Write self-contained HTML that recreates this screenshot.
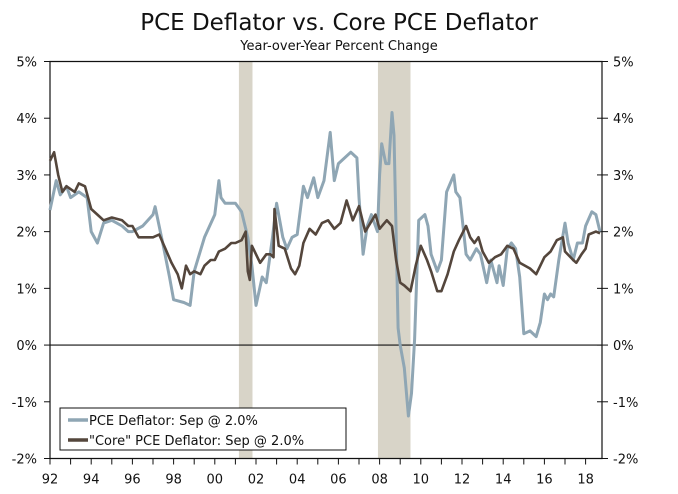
<!DOCTYPE html>
<html><head><meta charset="utf-8"><style>
html,body{margin:0;padding:0;background:#fff;}
svg{display:block;font-family:"DejaVu Sans","Liberation Sans",sans-serif;}
</style></head><body>
<svg id="chart" width="678" height="494" viewBox="0 0 678 494" xmlns="http://www.w3.org/2000/svg">
<text x="339" y="30" text-anchor="middle" font-size="23" fill="#111">PCE Deflator vs. Core PCE Deflator</text>
<text x="339" y="50" text-anchor="middle" font-size="13" fill="#111">Year-over-Year Percent Change</text>
<g id="rec"></g><g id="axes"></g><g id="lines"></g>
<g>
<rect x="60" y="408" width="286" height="42" fill="#fff" stroke="#111" stroke-width="1"/>
<line x1="68" y1="420" x2="88" y2="420" stroke="#8fa6b4" stroke-width="3.5"/>
<text x="89" y="425" font-size="13" fill="#111">PCE Deflator: Sep @ 2.0%</text>
<line x1="68" y1="440" x2="88" y2="440" stroke="#54463c" stroke-width="3.5"/>
<text x="89" y="445" font-size="13" fill="#111">"Core" PCE Deflator: Sep @ 2.0%</text>
</g>
</svg>
<script>
const pceDates=[1992.0,1992.3,1992.5,1992.8,1993.0,1993.4,1993.8,1994.0,1994.3,1994.6,1995.0,1995.5,1995.8,1996.0,1996.5,1997.0,1997.1,1997.5,1997.8,1998.0,1998.5,1998.8,1999.0,1999.5,2000.0,2000.2,2000.3,2000.5,2001.0,2001.3,2001.6,2001.8,2002.0,2002.3,2002.5,2002.8,2003.0,2003.3,2003.5,2003.75,2004.0,2004.3,2004.5,2004.8,2005.0,2005.3,2005.6,2005.8,2006.0,2006.6,2006.9,2007.0,2007.2,2007.4,2007.6,2007.9,2008.0,2008.1,2008.3,2008.45,2008.6,2008.7,2008.8,2008.9,2009.0,2009.2,2009.4,2009.55,2009.7,2009.9,2010.2,2010.35,2010.5,2010.8,2011.0,2011.25,2011.6,2011.7,2011.9,2012.2,2012.4,2012.7,2012.9,2013.2,2013.4,2013.7,2013.8,2014.0,2014.2,2014.4,2014.6,2014.8,2015.0,2015.3,2015.6,2015.8,2016.0,2016.15,2016.3,2016.45,2016.7,2017.0,2017.15,2017.4,2017.6,2017.85,2018.0,2018.3,2018.5,2018.7];
const pceValues=[2.38,2.9,2.65,2.8,2.6,2.7,2.6,2.0,1.8,2.15,2.2,2.1,2.0,2.0,2.1,2.3,2.44,1.75,1.2,0.8,0.75,0.7,1.3,1.9,2.3,2.9,2.6,2.5,2.5,2.35,1.9,1.4,0.7,1.2,1.1,1.9,2.5,1.9,1.7,1.9,1.95,2.8,2.6,2.95,2.6,2.9,3.75,2.9,3.2,3.4,3.3,2.6,1.6,2.1,2.3,2.0,3.0,3.55,3.2,3.2,4.1,3.7,2.0,0.3,0.0,-0.4,-1.25,-0.85,0.1,2.2,2.3,2.1,1.6,1.3,1.5,2.7,3.0,2.7,2.6,1.6,1.5,1.7,1.6,1.1,1.5,1.1,1.4,1.05,1.7,1.8,1.7,1.2,0.2,0.25,0.15,0.4,0.9,0.8,0.9,0.85,1.5,2.15,1.8,1.5,1.8,1.8,2.1,2.35,2.3,2.0];
const coreDates=[1992.0,1992.2,1992.4,1992.6,1992.8,1993.2,1993.4,1993.7,1994.0,1994.3,1994.6,1995.0,1995.5,1995.8,1996.0,1996.3,1996.7,1997.0,1997.3,1997.6,1997.9,1998.2,1998.4,1998.6,1998.8,1999.0,1999.3,1999.5,1999.8,2000.0,2000.2,2000.5,2000.8,2001.0,2001.3,2001.5,2001.6,2001.7,2001.8,2002.2,2002.5,2002.7,2002.85,2002.9,2003.1,2003.4,2003.7,2003.9,2004.1,2004.3,2004.6,2004.9,2005.2,2005.5,2005.8,2006.1,2006.4,2006.7,2007.0,2007.3,2007.8,2008.0,2008.35,2008.6,2008.8,2009.0,2009.2,2009.5,2009.75,2010.0,2010.3,2010.5,2010.8,2011.0,2011.3,2011.6,2011.85,2012.2,2012.4,2012.6,2012.8,2013.0,2013.3,2013.6,2013.9,2014.2,2014.5,2014.8,2015.3,2015.6,2016.0,2016.3,2016.6,2016.9,2017.0,2017.4,2017.55,2017.8,2018.0,2018.15,2018.5,2018.7];
const coreValues=[3.25,3.4,3.0,2.7,2.8,2.7,2.85,2.8,2.4,2.3,2.2,2.25,2.2,2.1,2.1,1.9,1.9,1.9,1.95,1.7,1.45,1.25,1.0,1.4,1.25,1.3,1.25,1.4,1.5,1.5,1.65,1.7,1.8,1.8,1.85,2.0,1.3,1.15,1.75,1.45,1.6,1.6,1.55,2.4,1.75,1.7,1.35,1.25,1.4,1.8,2.05,1.95,2.15,2.2,2.05,2.15,2.55,2.2,2.45,2.0,2.3,2.05,2.2,2.1,1.5,1.1,1.05,0.95,1.4,1.75,1.5,1.3,0.95,0.95,1.25,1.65,1.85,2.1,1.9,1.8,1.9,1.65,1.45,1.55,1.6,1.75,1.7,1.45,1.35,1.25,1.55,1.65,1.85,1.9,1.65,1.5,1.45,1.6,1.7,1.95,2.0,1.97];
const recessionStarts=[2001.17,2007.92];
const recessionEnds=[2001.83,2009.5];
const yTicks=[5,4,3,2,1,0,-1,-2];
const xLabels=["92","94","96","98","00","02","04","06","08","10","12","14","16","18"];

const X0=50,X1=602,Y0=61.5,Y1=458.5;
const x=t=>X0+(t-1992)*20.6;
const y=v=>Y0+(5-v)*(Y1-Y0)/7;
const NS="http://www.w3.org/2000/svg";
function mk(tag,attrs,parent){const e=document.createElementNS(NS,tag);for(const k in attrs)e.setAttribute(k,attrs[k]);parent.appendChild(e);return e;}
const rec=document.getElementById('rec'),axes=document.getElementById('axes'),lines=document.getElementById('lines');
recessionStarts.forEach((s,i)=>{
  const r=mk('rect',{x:x(s),y:Y0,width:x(recessionEnds[i])-x(s),height:Y1-Y0,fill:'#d8d4c8'},rec);
  
  
});
let a=mk('path',{d:`M${X0},${Y0}H${X1}V${Y1}H${X0}Z`,fill:'none',stroke:'#111','stroke-width':1.2},axes);


let z=mk('line',{x1:X0,x2:X1,y1:y(0),y2:y(0),stroke:'#111','stroke-width':1.2},axes);


yTicks.forEach(v=>{
  mk('line',{x1:X0-6,x2:X0,y1:y(v),y2:y(v),stroke:'#111'},axes);
  mk('line',{x1:X1-5,x2:X1+6,y1:y(v),y2:y(v),stroke:'#111'},axes);
  const l=mk('text',{x:37,y:y(v)+5,'text-anchor':'end','font-size':13,fill:'#111'},axes);
  l.textContent=v+'%';
  
  
  const r=mk('text',{x:613,y:y(v)+5,'font-size':13,fill:'#111'},axes);
  r.textContent=v+'%';
  
  
});
for(let t=1992;t<=2018;t++){mk('line',{x1:x(t),x2:x(t),y1:Y1,y2:Y1+6,stroke:'#111'},axes);}
xLabels.forEach((s,i)=>{
  const l=mk('text',{x:x(1992+2*i),y:Y1+25,'text-anchor':'middle','font-size':13,fill:'#111'},axes);
  l.textContent=s;
  
  
});
function path(ds,vs){return ds.map((d,i)=>(i?'L':'M')+x(d).toFixed(1)+','+y(vs[i]).toFixed(1)).join('');}
const p1=mk('path',{d:path(pceDates,pceValues),fill:'none',stroke:'#8fa6b4','stroke-width':3,'stroke-linejoin':'round'},lines);


const p2=mk('path',{d:path(coreDates,coreValues),fill:'none',stroke:'#54463c','stroke-width':2.6,'stroke-linejoin':'round'},lines);


</script>
</body></html>
